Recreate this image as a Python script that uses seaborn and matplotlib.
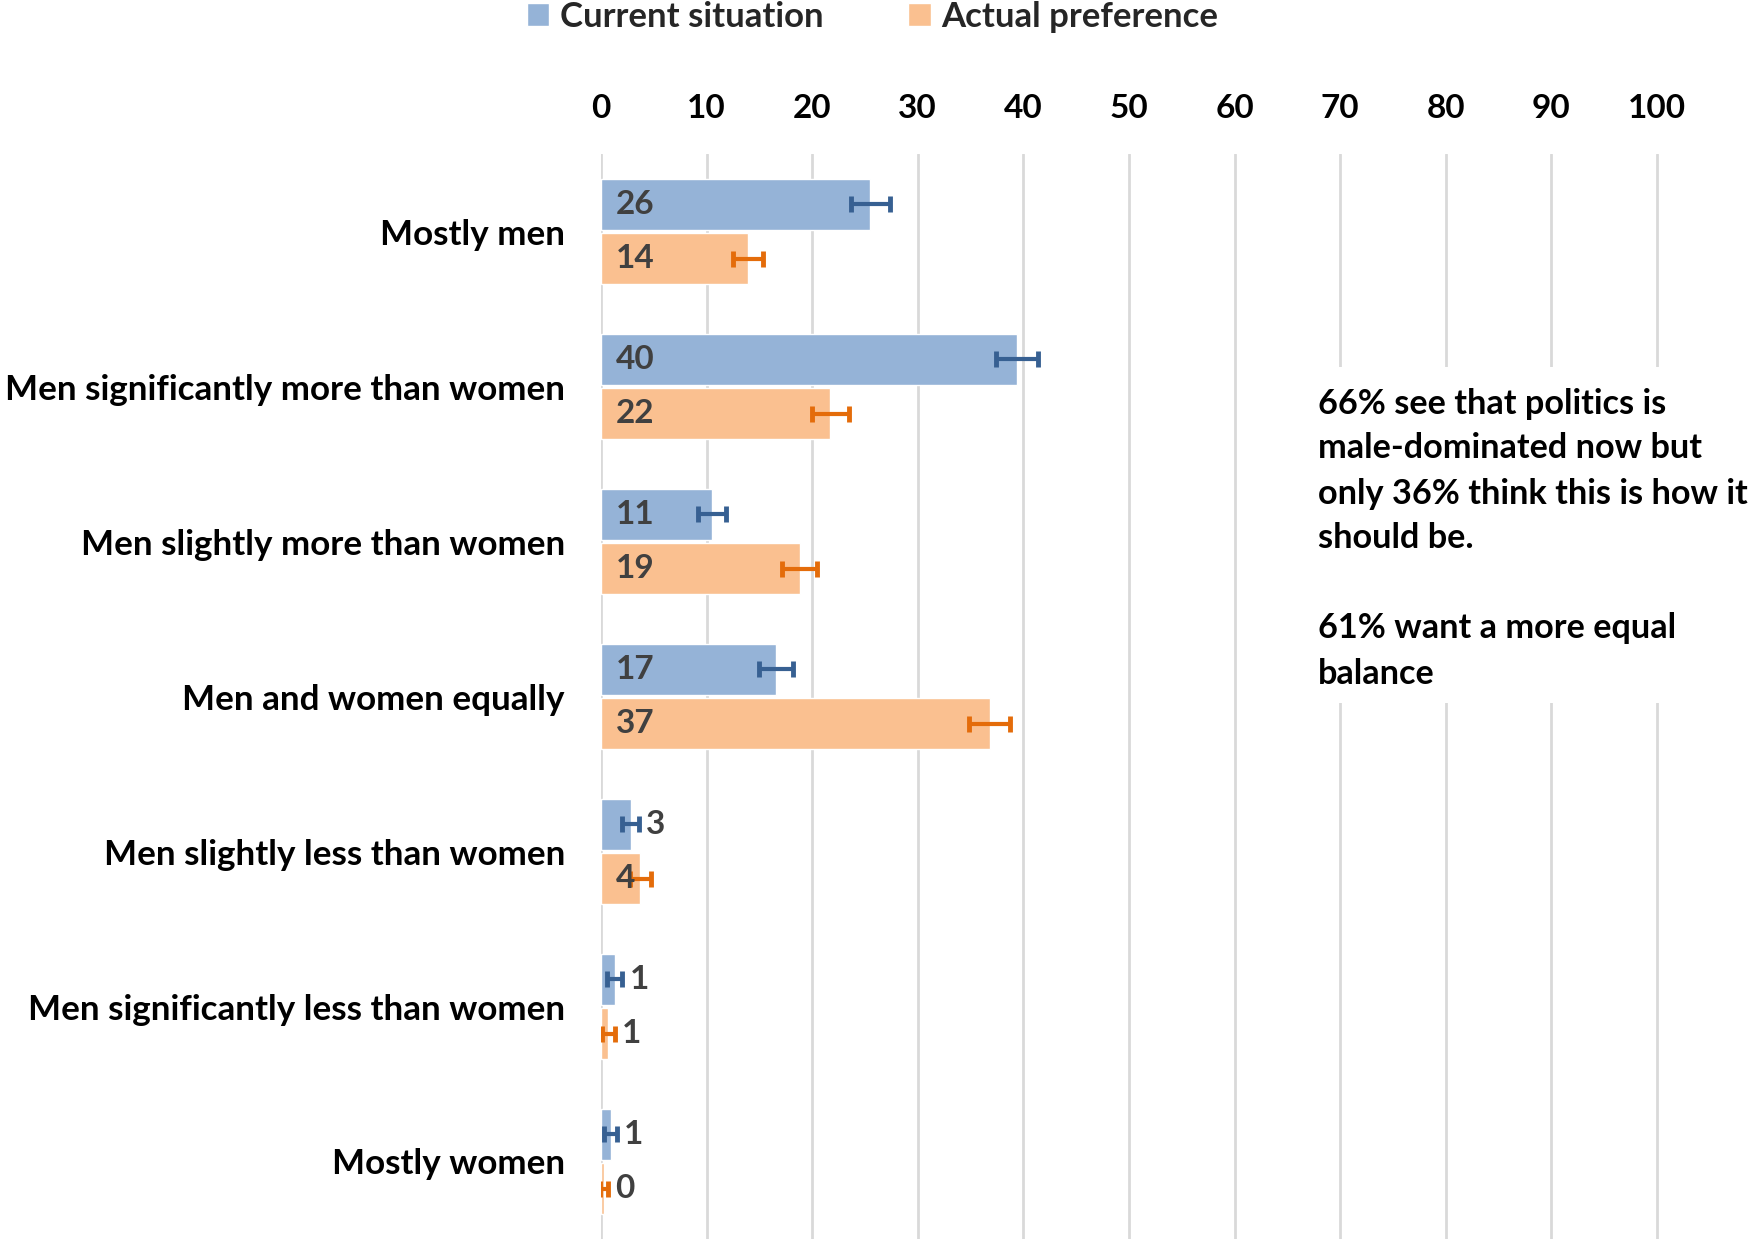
import pandas as pd
import seaborn as sns
import matplotlib.pyplot as plt
from matplotlib.patches import Patch, Rectangle

# data
categories = ['Mostly men', 'Men significantly more than women',
              'Men slightly more than women', 'Men and women equally',
              'Men slightly less than women', 'Men significantly less than women',
              'Mostly women']
series = ['Current situation', 'Actual preference']
current = [25.5, 39.4, 10.5, 16.6, 2.8, 1.3, 0.9]
preference = [13.9, 21.7, 18.8, 36.8, 3.7, 0.7, 0.3]
current_err = [1.85, 2.0, 1.35, 1.6, 0.8, 0.7, 0.6]
preference_err = [1.4, 1.75, 1.7, 1.95, 1.0, 0.6, 0.35]
current_lbl = ['26', '40', '11', '17', '3', '1', '1']
preference_lbl = ['14', '22', '19', '37', '4', '1', '0']
xticks = list(range(0, 101, 10))
note = ('66% see that politics is\nmale-dominated now but\n'
        'only 36% think this is how it\nshould be.\n\n'
        '61% want a more equal\nbalance')

blue, orange = '#95B3D7', '#FAC090'
blue_err, orange_err = '#376092', '#E46C0A'

df = pd.DataFrame({
    'category': categories * 2,
    'series': [series[0]] * len(categories) + [series[1]] * len(categories),
    'value': current + preference,
})

sns.set_style('white')
plt.rcParams['font.family'] = ['Lato', 'DejaVu Sans']
plt.rcParams['font.weight'] = 'bold'

W, H = 1754, 1239
fig = plt.figure(figsize=(W / 100, H / 100), dpi=100)
ax = fig.add_axes([601 / W, 0, 1056 * 1.01 / W, (H - 154) / H])

sns.barplot(data=df, y='category', x='value', hue='series', orient='h',
            palette=[blue, orange], saturation=1, width=0.7, gap=0.05,
            errorbar=None, legend=False, ax=ax)

# error bars + data labels
for cont, vals, errs, lbls, ec in [
        (ax.containers[0], current, current_err, current_lbl, blue_err),
        (ax.containers[1], preference, preference_err, preference_lbl, orange_err)]:
    ys = [p.get_y() + p.get_height() / 2 for p in cont.patches]
    ax.errorbar(vals, ys, xerr=errs, fmt='none', ecolor=ec, elinewidth=3,
                capsize=5.5, capthick=3.5, zorder=4)
    for v, e, y, t in zip(vals, errs, ys, lbls):
        x = 1.4 if v > 3.5 else v + e + 0.7
        ax.text(x, y, t, ha='left', va='center', color='#404040',
                fontsize=24, fontweight='bold', zorder=5)

ax.set_xlim(0, 101)
ax.set_ylim(6.5, -0.5)
ax.xaxis.tick_top()
ax.set_xticks(xticks)
ax.set_xticklabels([str(t) for t in xticks])
ax.tick_params(axis='x', length=0, pad=22, labelsize=24, labelcolor='black')
ax.tick_params(axis='y', length=0, pad=26, labelsize=25.2, labelcolor='black')
ax.grid(axis='x', color='#D9D9D9', linewidth=2)
ax.grid(axis='y', visible=False)
ax.set_axisbelow(True)
for s in ax.spines.values():
    s.set_visible(False)
ax.set_xlabel('')
ax.set_ylabel('')

fig.legend(handles=[Patch(facecolor=blue, label=series[0]),
                    Patch(facecolor=orange, label=series[1])],
           loc='upper center', bbox_to_anchor=(0.4975, 1.016), ncol=2,
           frameon=False, fontsize=25, handlelength=0.65, handleheight=0.65,
           handletextpad=0.3, columnspacing=2.45, borderpad=0.1)

# white box hiding the grid behind the note
fig.add_artist(Rectangle((1270 / W, 1 - 703 / H), (W - 1270) / W, 336 / H,
                         transform=fig.transFigure, facecolor='white',
                         edgecolor='none', zorder=5))
fig.text(1318 / W, 1 - 387.5 / H, note, ha='left', va='top', fontsize=24.7,
         fontweight='bold', linespacing=1.5, color='black', zorder=6)

fig.savefig('out.png', dpi=100)
